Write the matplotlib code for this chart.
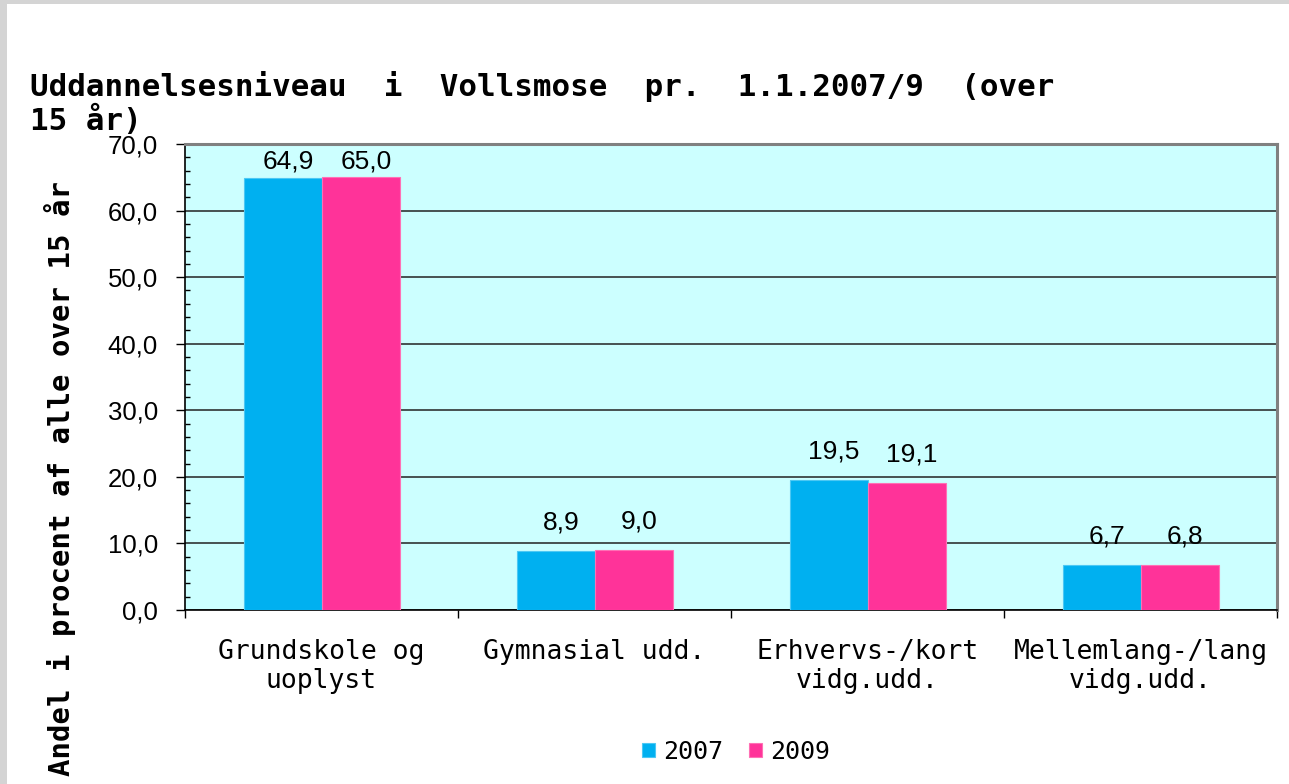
import numpy as np
import matplotlib
matplotlib.use('Agg')
import matplotlib.pyplot as plt
from matplotlib.patches import Rectangle
from matplotlib.ticker import FuncFormatter, MultipleLocator, FixedLocator

plt.rcParams.update({
    'font.family': 'Liberation Sans',
    'ytick.labelsize': 18.5,
})

# data
categories = ['Grundskole og\nuoplyst', 'Gymnasial udd.',
              'Erhvervs-/kort\nvidg.udd.', 'Mellemlang-/lang\nvidg.udd.']
years = ['2007', '2009']
share_2007 = [64.9, 8.9, 19.5, 6.7]
share_2009 = [65.0, 9.0, 19.1, 6.8]

col_2007 = '#00B0F0'
col_2009 = '#FF3399'
mono = 'DejaVu Sans Mono'

fig = plt.figure(figsize=(12.89, 7.84), dpi=100)
fig.patch.set_facecolor('white')

# grey frame along the top and left edge of the screenshot
fig.patches.append(Rectangle((0, 1 - 4/784), 1, 4/784, transform=fig.transFigure,
                             facecolor='#D4D4D4', edgecolor='none'))
fig.patches.append(Rectangle((0, 0), 7/1289, 1, transform=fig.transFigure,
                             facecolor='#D4D4D4', edgecolor='none'))

ax = fig.add_axes([185/1289, 174/784, 1092/1289, 466/784])
ax.set_facecolor('#CCFFFF')

x = np.arange(len(categories))
w = 78/273
b1 = ax.bar(x - w/2, share_2007, w, color=col_2007, edgecolor='#4CC8F4',
            linewidth=0.8, label=years[0], zorder=3)
b2 = ax.bar(x + w/2, share_2009, w, color=col_2009, edgecolor='#FF70B5',
            linewidth=0.8, label=years[1], zorder=3)

fmt = lambda v: f'{v:.1f}'.replace('.', ',')
for bars in (b1, b2):
    for r in bars:
        v = r.get_height()
        off = 3 if v > 60 else 12
        ax.annotate(fmt(v), (r.get_x() + r.get_width()/2 + 0.02, v),
                    xytext=(0, off), textcoords='offset points',
                    ha='center', va='bottom', fontsize=19, zorder=4)

ax.set_xlim(-0.5, len(categories) - 0.5)
ax.set_ylim(0, 70)
ax.yaxis.set_major_locator(MultipleLocator(10))
ax.yaxis.set_minor_locator(MultipleLocator(2))
ax.yaxis.set_major_formatter(FuncFormatter(lambda v, p: fmt(v)))
ax.grid(axis='y', which='major', color='#222222', linewidth=1.1, zorder=1)
ax.set_axisbelow(True)

ax.tick_params(axis='y', which='major', direction='out', length=6.5, width=1,
               pad=13)
ax.tick_params(axis='y', which='minor', direction='in', length=3.6, width=1)

# category labels between the boundary ticks
ax.set_xticks(x)
ax.set_xticklabels(categories, fontfamily=mono, fontsize=19, linespacing=1.15)
ax.tick_params(axis='x', which='major', length=0, pad=21)
ax.xaxis.set_minor_locator(FixedLocator(np.arange(len(categories) + 1) - 0.5))
ax.tick_params(axis='x', which='minor', direction='out', length=6, width=1)

for s in ('top', 'right'):
    ax.spines[s].set_color('#808080')
    ax.spines[s].set_linewidth(2.2)
for s in ('left', 'bottom'):
    ax.spines[s].set_color('black')
    ax.spines[s].set_linewidth(1.2)

fig.text(30/1289, 1 - 71/784,
         'Uddannelsesniveau  i  Vollsmose  pr.  1.1.2007/9  (over\n15 år)',
         fontfamily=mono, fontweight='bold', fontsize=22.2, va='top', ha='left',
         linespacing=1.1)

fig.text(60/1289, 1 - 479/784, 'Andel i procent af alle over 15 år',
         fontfamily=mono, fontweight='bold', fontsize=20.85, rotation=90,
         ha='center', va='center')

fig.legend(handles=[b1, b2], labels=years, loc='center',
           bbox_to_anchor=(736/1289, 1 - 752/784), ncol=2, frameon=False,
           prop={'family': mono, 'size': 18}, handlelength=0.52,
           handleheight=0.52, handletextpad=0.36, columnspacing=1.0)

fig.savefig('out.png', dpi=100)
